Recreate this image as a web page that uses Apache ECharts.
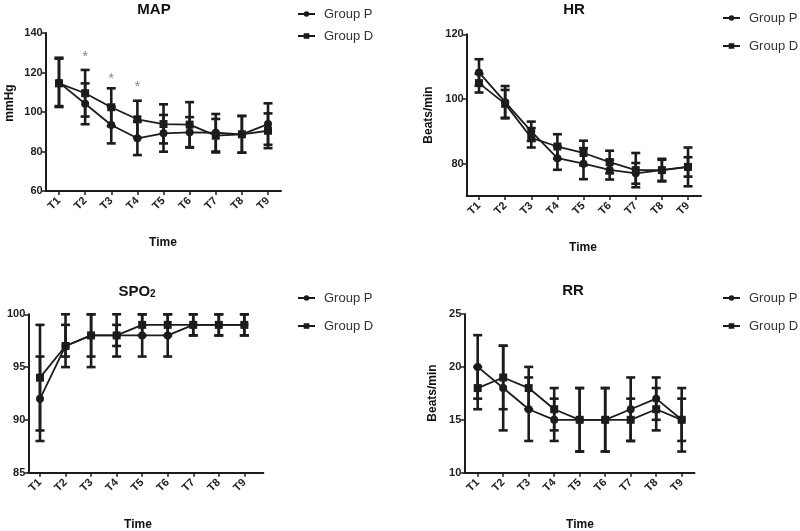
<!DOCTYPE html>
<html>
<head>
<meta charset="utf-8">
<script src="https://cdn.jsdelivr.net/npm/echarts@6/dist/echarts.min.js"></script>
<style>html,body{margin:0;padding:0;background:#fff}#c{width:800px;height:531px}</style>
</head>
<body>
<div id="c"></div>
<script>
// ---- data ----
const categories = ['T1','T2','T3','T4','T5','T6','T7','T8','T9'];
const groupNames = ['Group P','Group D'];

// MAP (mmHg)
const mapP   = [115, 104.2, 93.4, 86.7, 89.2, 89.7, 89.5, 88.7, 93.9];
const mapPLo = [103, 93.8, 84.1, 78.2, 79.9, 82, 80, 79.4, 83.4];
const mapPHi = [127, 114.5, 102.7, 95.2, 98.5, 97.4, 99, 98, 104.4];
const mapD   = [114.5, 109.5, 102.4, 96.3, 93.9, 93.6, 88, 88.7, 90.5];
const mapDLo = [102.5, 97.7, 92.8, 86.9, 84.1, 82.2, 79.5, 79.4, 81.7];
const mapDHi = [127.5, 121.3, 112, 105.7, 103.9, 105, 96.5, 98, 99.3];
const mapStars = [null, 129.4, 118.4, 114, null, null, null, null, null];

// HR (beats/min)
const hrP   = [108.2, 99, 90, 81.7, 80, 78.1, 77, 78, 79];
const hrPLo = [104.1, 94, 87, 78.1, 75.2, 75.1, 73.8, 74.5, 76];
const hrPHi = [112.3, 104, 93, 85.3, 84.8, 81.1, 80.2, 81.5, 82];
const hrD   = [104.9, 98.5, 88, 85.3, 83.3, 80.5, 78, 78, 79];
const hrDLo = [102, 94.2, 85, 81.5, 79.5, 77, 72.7, 74.7, 73];
const hrDHi = [107.8, 102.8, 91, 89.1, 87.1, 84, 83.3, 81.2, 85];

// SPO2 (%)
const spP   = [92, 97, 98, 98, 98, 98, 99, 99, 99];
const spPLo = [88, 95, 96, 96, 96, 96, 98, 98, 98];
const spPHi = [96, 100, 100, 100, 100, 100, 100, 100, 100];
const spD   = [94, 97, 98, 98, 99, 99, 99, 99, 99];
const spDLo = [89, 96, 95, 97, 98, 98, 98, 98, 98];
const spDHi = [99, 99, 100, 99, 100, 100, 100, 100, 100];

// RR (beats/min)
const rrP   = [20, 18, 16, 15, 15, 15, 16, 17, 15];
const rrPLo = [17, 14, 13, 13, 12, 12, 13, 15, 12];
const rrPHi = [23, 22, 19, 17, 18, 18, 19, 19, 18];
const rrD   = [18, 19, 18, 16, 15, 15, 15, 16, 15];
const rrDLo = [16, 16, 16, 14, 12, 12, 13, 14, 13];
const rrDHi = [20, 22, 20, 18, 18, 18, 17, 18, 17];

// y tick labels
const mapTicks = [60, 80, 100, 120, 140];
const hrTicks = [80, 100, 120];
const spTicks = [85, 90, 95, 100];
const rrTicks = [10, 15, 20, 25];

// ---- chart ----
const FONT = "'Liberation Sans', Arial, Helvetica, sans-serif";
const INK = '#1c1c1c';
const chart = echarts.init(document.getElementById('c'), null, {renderer: 'canvas'});

const xTickVals = categories.map((c, i) => i + 1);

function xAxis(gi, min, max) {
  return {
    type: 'value', gridIndex: gi, min: min, max: max,
    axisLine: {show: true, lineStyle: {color: INK, width: 2}},
    axisTick: {show: true, length: 4, lineStyle: {color: INK, width: 1.5}, customValues: xTickVals},
    axisLabel: {show: true, rotate: 45, margin: 8, fontSize: 11, fontWeight: 'bold', color: '#222', fontFamily: FONT,
      customValues: xTickVals, formatter: v => categories[Math.round(v) - 1] || ''},
    splitLine: {show: false}
  };
}
function yAxis(gi, min, max, ticks) {
  return {
    type: 'value', gridIndex: gi, min: min, max: max,
    axisLine: {show: true, lineStyle: {color: INK, width: 2}},
    axisTick: {show: true, length: 4, lineStyle: {color: INK, width: 1.5}, customValues: ticks},
    axisLabel: {show: true, margin: 3, fontSize: 11, fontWeight: 'bold', color: '#222', fontFamily: FONT, customValues: ticks},
    splitLine: {show: false}
  };
}

function errRender(params, api) {
  const x = api.value(0), lo = api.value(1), hi = api.value(2);
  const a = api.coord([x, lo]), b = api.coord([x, hi]);
  const w = 4.5;
  const st = {stroke: INK, lineWidth: 2.6};
  return {type: 'group', children: [
    {type: 'line', shape: {x1: a[0], y1: a[1], x2: b[0], y2: b[1]}, style: st},
    {type: 'line', shape: {x1: b[0] - w, y1: b[1], x2: b[0] + w, y2: b[1]}, style: st},
    {type: 'line', shape: {x1: a[0] - w, y1: a[1], x2: a[0] + w, y2: a[1]}, style: st}
  ]};
}

function panelSeries(gi, p, pLo, pHi, d, dLo, dHi) {
  const mk = (name, vals, sym) => ({
    type: 'line', name: name, xAxisIndex: gi, yAxisIndex: gi,
    data: vals.map((v, i) => [i + 1, v]),
    symbol: sym, symbolSize: 8, z: 3,
    itemStyle: {color: INK}, lineStyle: {color: INK, width: 1.8}
  });
  const eb = (name, lo, hi) => ({
    type: 'custom', name: name, xAxisIndex: gi, yAxisIndex: gi, z: 4,
    renderItem: errRender, encode: {x: 0, y: [1, 2]},
    data: lo.map((v, i) => [i + 1, v, hi[i]])
  });
  return [mk(groupNames[0], p, 'circle'), mk(groupNames[1], d, 'rect'),
          eb('errP' + gi, pLo, pHi), eb('errD' + gi, dLo, dHi)];
}

function legend(left, top, gap) {
  return {
    data: groupNames, orient: 'vertical', left: left, top: top, padding: 0,
    itemWidth: 17, itemHeight: 7, itemGap: gap, selectedMode: false,
    textStyle: {fontSize: 13, color: '#333', fontFamily: FONT, lineHeight: 14, padding: [0, 0, 0, 4]}
  };
}

function txt(x, y, text, size, rot, extra) {
  return Object.assign({
    type: 'text', x: x, y: y, rotation: rot || 0,
    style: {text: text, textAlign: 'center', textVerticalAlign: 'middle',
      font: 'bold ' + size + 'px ' + FONT, fill: '#111'}
  }, extra || {});
}

const option = {
  animation: false,
  backgroundColor: '#fff',
  grid: [
    {left: 45.7, top: 33, width: 235.3, height: 158},
    {left: 466.7, top: 34.3, width: 234.3, height: 161.7},
    {left: 28.3, top: 314.3, width: 235, height: 158.4},
    {left: 464.3, top: 314, width: 230.2, height: 158.7}
  ],
  xAxis: [xAxis(0, 0.491, 9.497), xAxis(1, 0.529, 9.497), xAxis(2, 0.542, 9.742), xAxis(3, 0.475, 9.502)],
  yAxis: [yAxis(0, 60, 140, mapTicks), yAxis(1, 70, 120, hrTicks), yAxis(2, 85, 100, spTicks), yAxis(3, 10, 25, rrTicks)],
  legend: [legend(297, 7, 8), legend(722, 11, 14), legend(297, 291, 14), legend(722, 291, 14)],
  series: [].concat(
    panelSeries(0, mapP, mapPLo, mapPHi, mapD, mapDLo, mapDHi),
    panelSeries(1, hrP, hrPLo, hrPHi, hrD, hrDLo, hrDHi),
    panelSeries(2, spP, spPLo, spPHi, spD, spDLo, spDHi),
    panelSeries(3, rrP, rrPLo, rrPHi, rrD, rrDLo, rrDHi),
    [{
      type: 'scatter', name: 'sig', xAxisIndex: 0, yAxisIndex: 0, z: 5,
      data: mapStars.map((v, i) => v == null ? null : [i + 1, v]).filter(Boolean),
      symbolSize: 1, itemStyle: {color: 'rgba(0,0,0,0)'},
      label: {show: true, position: 'inside', formatter: '*', offset: [0, 3],
        fontSize: 14, color: '#666', fontFamily: FONT}
    }]
  ),
  graphic: [
    txt(154, 10, 'MAP', 15),
    txt(574, 10, 'HR', 15),
    {
      type: 'text', x: 137, y: 292,
      style: {text: '{a|SPO}{b|2}', textAlign: 'center', textVerticalAlign: 'middle',
        rich: {a: {font: 'bold 15px ' + FONT, fill: '#111'},
               b: {font: 'bold 10px ' + FONT, fill: '#111', padding: [5, 0, 0, 0]}}}
    },
    txt(573, 291, 'RR', 15),
    txt(163, 243, 'Time', 12),
    txt(583, 248, 'Time', 12),
    txt(138, 525, 'Time', 12),
    txt(580, 525, 'Time', 12),
    txt(10, 103, 'mmHg', 12, Math.PI / 2),
    txt(429, 115, 'Beats/min', 12, Math.PI / 2),
    txt(433, 393, 'Beats/min', 12, Math.PI / 2)
  ]
};
chart.setOption(option);
</script>
</body>
</html>
